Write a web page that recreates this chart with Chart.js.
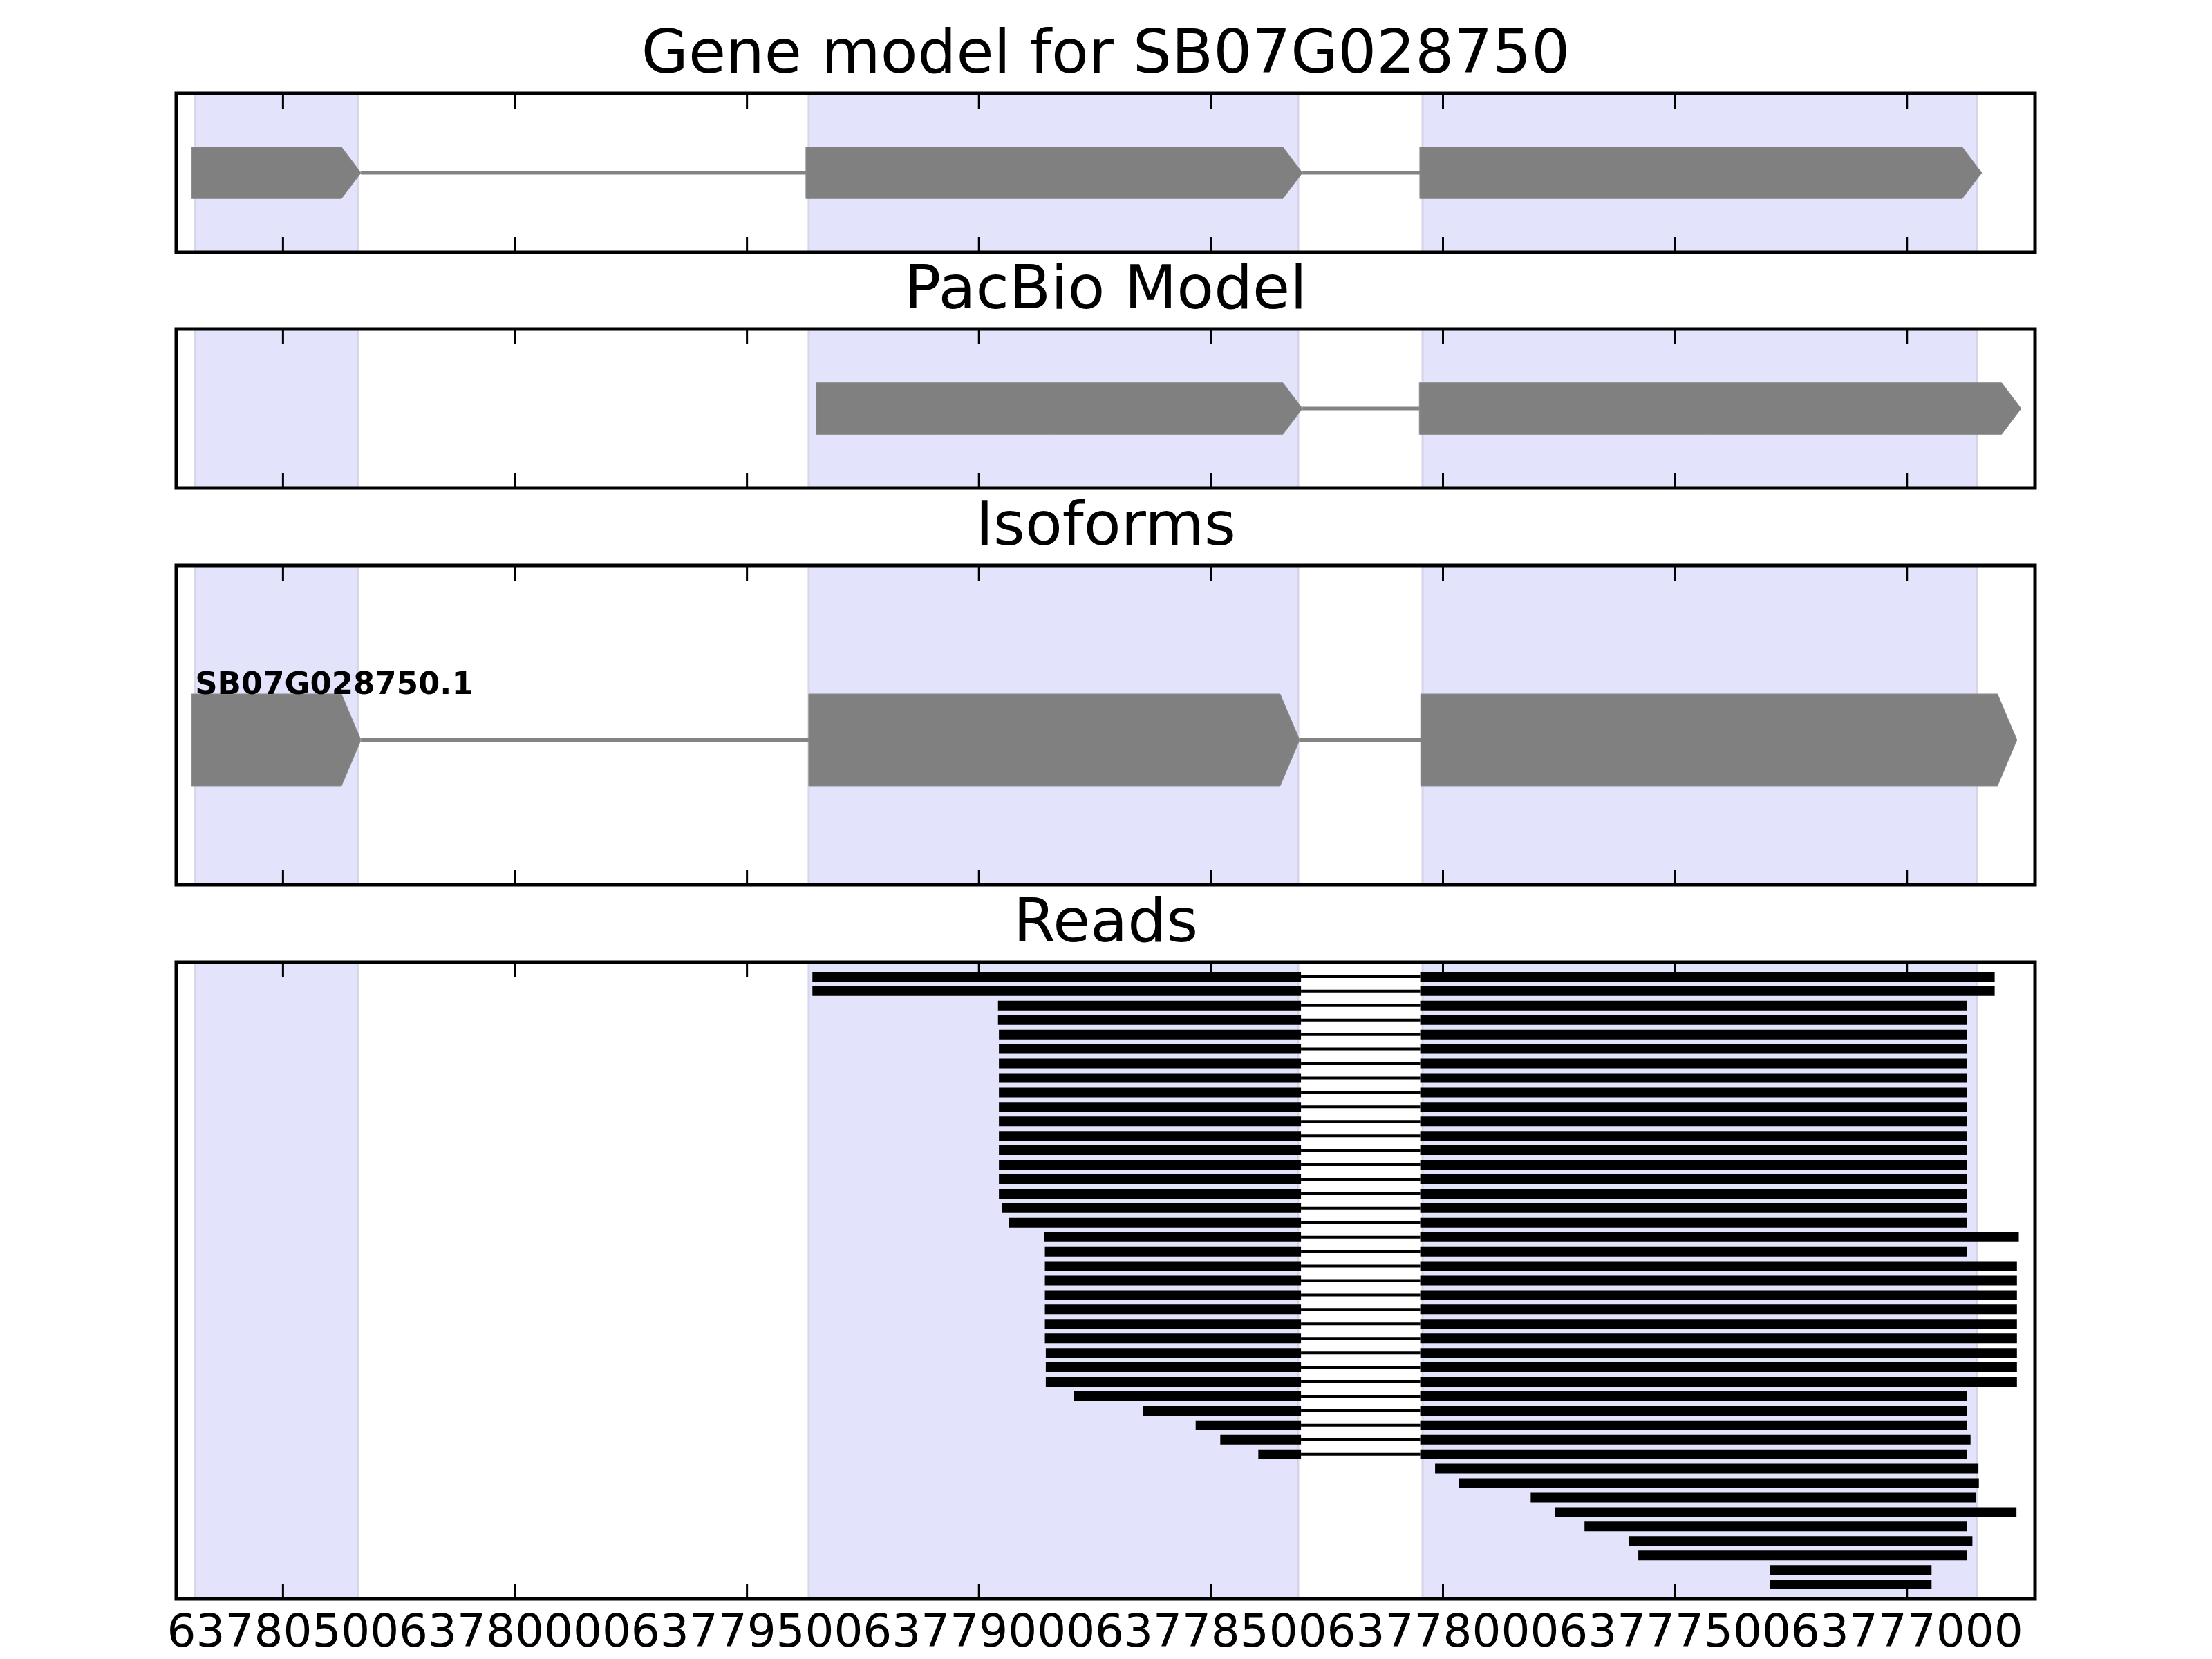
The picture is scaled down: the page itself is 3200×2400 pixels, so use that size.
<!DOCTYPE html>
<html>
<head>
<meta charset="utf-8">
<script src="https://cdn.jsdelivr.net/npm/chart.js@4.4.0/dist/chart.umd.min.js"></script>
<style>
  html, body { margin: 0; padding: 0; background: #fff; }
  body { width: 3200px; height: 2400px; position: relative; overflow: hidden; }
  canvas { position: absolute; left: 0; }
</style>
</head>
<body>
<canvas id="gene"></canvas>
<canvas id="pacbio"></canvas>
<canvas id="isoforms"></canvas>
<canvas id="reads"></canvas>
<script>
// genomic window, drawn reversed (gene is on the minus strand)
const xMin = 63776724;
const xMax = 63780730;
const tickValues = [63780500, 63780000, 63779500, 63779000, 63778500, 63778000, 63777500, 63777000];

// shaded exon spans behind every panel
const shadeStarts = [63780689, 63779367, 63778044];
const shadeEnds   = [63780339, 63778312, 63776849];

// exon blocks: start -> arrow tip
const geneExonStarts = [63780697, 63779373, 63778050];
const geneExonEnds   = [63780332, 63778303, 63776839];
const pacbioExonStarts = [63779351, 63778051];
const pacbioExonEnds   = [63778303, 63776754];
const isoformNames = ['SB07G028750.1'];
const isoformExonStarts = [63780697, 63779367, 63778048];
const isoformExonEnds   = [63780332, 63778309, 63776763];

// reads, one per row from top to bottom
const readStarts = [
  63779359, 63779359, 63778959, 63778959,
  63778957, 63778957, 63778957, 63778957, 63778957, 63778957,
  63778957, 63778957, 63778957, 63778957, 63778957, 63778957,
  63778950, 63778935, 63778859,
  63778858, 63778858, 63778858, 63778858, 63778858, 63778858, 63778858,
  63778856, 63778856, 63778856,
  63778795, 63778646, 63778533, 63778480, 63778398,
  63778017, 63777966, 63777811, 63777758, 63777695, 63777600, 63777579,
  63777296, 63777296
];
const readEnds = [
  63776811, 63776811,
  63776870, 63776870, 63776870, 63776870, 63776870, 63776870, 63776870, 63776870,
  63776870, 63776870, 63776870, 63776870, 63776870, 63776870, 63776870, 63776870,
  63776759, 63776870,
  63776763, 63776763, 63776763, 63776763, 63776763, 63776763, 63776763, 63776763, 63776763,
  63776870, 63776870, 63776870, 63776863, 63776870,
  63776846, 63776845, 63776851, 63776764, 63776870, 63776859, 63776870,
  63776947, 63776947
];
const readIntronStart = 63778306;
const readIntronEnd = 63778049;

const arrowBp = 42;
Chart.defaults.font.family = 'DejaVu Sans';
Chart.defaults.color = '#000';

// exon polygons with arrow tip plus the intron lines between them
function modelDatasets(starts, ends, half) {
  const ds = [];
  starts.forEach((s, i) => {
    const tip = ends[i], base = tip + arrowBp;
    ds.push({
      data: [{x: s, y: half}, {x: base, y: half}, {x: tip, y: 0}, {x: base, y: -half}, {x: s, y: -half}, {x: s, y: half}],
      fill: 'shape', backgroundColor: '#808080', borderColor: '#8c8c8c', borderWidth: 1, pointRadius: 0
    });
    if (i + 1 < starts.length) {
      ds.push({ data: [{x: tip, y: 0}, {x: starts[i + 1], y: 0}], borderColor: '#838383', borderWidth: 5, pointRadius: 0, fill: false });
    }
  });
  return ds;
}

function readDatasets() {
  const ds = [];
  const seg = (a, b, row, w) => ds.push({
    data: [{x: a, y: row}, {x: b, y: row}], borderColor: '#000', borderWidth: w,
    borderCapStyle: 'butt', pointRadius: 0, fill: false
  });
  readStarts.forEach((s, i) => {
    const e = readEnds[i];
    if (s > readIntronStart && e < readIntronEnd) {
      seg(s, readIntronStart, i, 14);
      seg(readIntronStart, readIntronEnd, i, 4);
      seg(readIntronEnd, e, i, 14);
    } else {
      seg(s, e, i, 14);
    }
  });
  return ds;
}

// shading, frame and inward ticks
const panelDecor = {
  id: 'panelDecor',
  beforeDatasetsDraw(chart) {
    const {ctx, chartArea: a, scales: {x}} = chart;
    ctx.save();
    shadeStarts.forEach((s, i) => {
      const x1 = x.getPixelForValue(s), x2 = x.getPixelForValue(shadeEnds[i]);
      ctx.fillStyle = 'rgb(227,227,252)';
      ctx.fillRect(x1, a.top, x2 - x1, a.bottom - a.top);
      ctx.strokeStyle = 'rgba(205,205,228,0.8)';
      ctx.lineWidth = 3;
      ctx.beginPath();
      ctx.moveTo(x1, a.top); ctx.lineTo(x1, a.bottom);
      ctx.moveTo(x2, a.top); ctx.lineTo(x2, a.bottom);
      ctx.stroke();
    });
    ctx.restore();
  },
  afterDraw(chart) {
    const {ctx, chartArea: a, scales: {x}} = chart;
    ctx.save();
    ctx.strokeStyle = '#000';
    ctx.lineWidth = 3;
    tickValues.forEach(v => {
      const px = x.getPixelForValue(v);
      ctx.beginPath();
      ctx.moveTo(px, a.top); ctx.lineTo(px, a.top + 22);
      ctx.moveTo(px, a.bottom); ctx.lineTo(px, a.bottom - 22);
      ctx.stroke();
    });
    ctx.lineWidth = 5;
    ctx.strokeRect(a.left, a.top, a.right - a.left, a.bottom - a.top);
    ctx.restore();
  }
};

const isoLabel = {
  id: 'isoLabel',
  afterDatasetsDraw(chart) {
    const {ctx, scales: {x, y}} = chart;
    ctx.save();
    ctx.font = 'bold 45px "DejaVu Sans"';
    ctx.fillStyle = '#000';
    ctx.textBaseline = 'alphabetic';
    ctx.fillText(isoformNames[0], x.getPixelForValue(isoformExonStarts[0]) + 5, y.getPixelForValue(0.5));
    ctx.restore();
  }
};

function makePanel(id, panelTop, panelBottom, title, datasets, yMin, yMax, opts) {
  const last = !!opts.last;
  const canvas = document.getElementById(id);
  const top = panelTop - 109;
  const axisH = 87;
  canvas.style.top = top + 'px';
  canvas.width = 3200;
  canvas.height = last ? 2400 - top : panelBottom - top + 6;
  return new Chart(canvas, {
    type: 'line',
    data: { datasets },
    options: {
      responsive: false,
      devicePixelRatio: 1,
      animation: false,
      layout: { padding: { left: 255, right: 256, top: 0, bottom: last ? 0 : 6 } },
      plugins: {
        legend: { display: false },
        tooltip: { enabled: false },
        title: {
          display: true, text: title,
          font: { size: 88, weight: 'normal' },
          color: '#000',
          padding: { top: 3.4, bottom: 0 }
        }
      },
      scales: {
        x: {
          type: 'linear', reverse: true, min: xMin, max: xMax,
          display: last,
          grid: { display: false, drawTicks: false },
          border: { display: false },
          afterBuildTicks: s => { s.ticks = tickValues.map(v => ({value: v})); },
          afterFit: s => { s.height = last ? axisH : 0; },
          ticks: {
            autoSkip: false, maxRotation: 0, minRotation: 0,
            padding: 12,
            font: { size: 66 },
            color: '#000',
            callback: v => String(v)
          }
        },
        y: {
          type: 'linear', min: yMin, max: yMax, reverse: !!opts.reverseY,
          display: false
        }
      }
    },
    plugins: opts.extra ? [panelDecor, opts.extra] : [panelDecor]
  });
}

makePanel('gene', 135, 365, 'Gene model for SB07G028750',
  modelDatasets(geneExonStarts, geneExonEnds, 0.5), -1.54, 1.54, {});
makePanel('pacbio', 476, 706, 'PacBio Model',
  modelDatasets(pacbioExonStarts, pacbioExonEnds, 0.5), -1.54, 1.54, {});
makePanel('isoforms', 818, 1280, 'Isoforms',
  modelDatasets(isoformExonStarts, isoformExonEnds, 0.5), -1.575, 1.898, {extra: isoLabel});
makePanel('reads', 1392, 2313, 'Reads', readDatasets(), -1, 43, {last: true, reverseY: true});
</script>
</body>
</html>
